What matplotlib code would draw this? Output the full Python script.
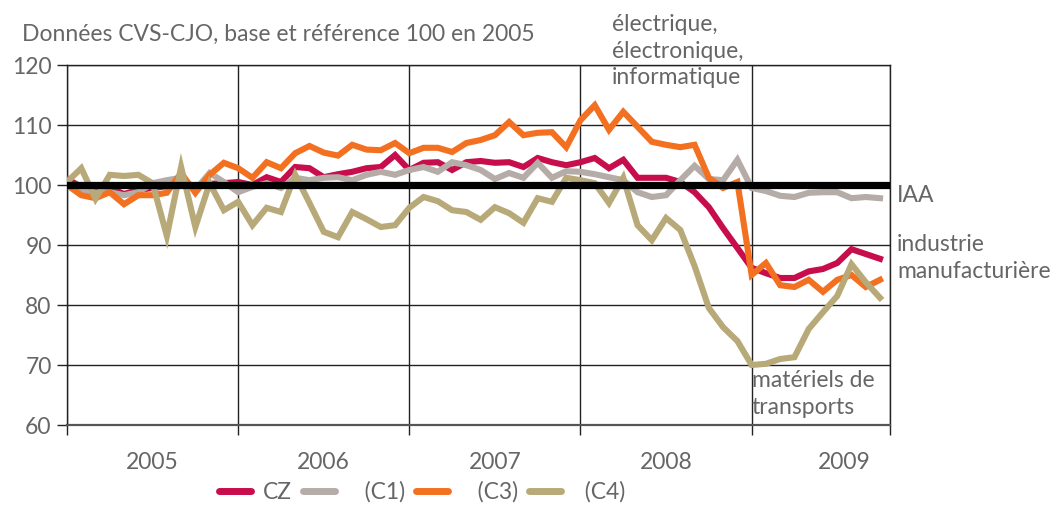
import numpy as np
import matplotlib
matplotlib.use("Agg")
import matplotlib.pyplot as plt
from matplotlib.lines import Line2D

plt.rcParams['font.family'] = ['Lato', 'DejaVu Sans']

# ---- data (monthly index, Jan 2005 -> Oct 2009) ----
years = ['2005', '2006', '2007', '2008', '2009']
year_label_pos = [6, 18, 30, 42, 54.5]
year_ticks = [0, 12, 24, 36, 48, 57.7]

cz = [101.0, 99.7, 99.2, 99.5, 98.5, 99.2, 99.5, 99.8, 100.5, 99.8,
      100.2, 100.3, 100.5, 100.0, 101.3, 100.5, 103.0, 102.8, 101.3, 101.8,
      102.2, 102.8, 103.0, 105.0, 102.5, 103.7, 103.8, 102.5, 103.8, 104.0,
      103.7, 103.8, 103.0, 104.5, 103.8, 103.3, 103.8, 104.5, 102.8, 104.2,
      101.2, 101.2, 101.2, 100.5, 98.8, 96.3, 92.8, 89.5, 86.2, 85.3,
      84.5, 84.5, 85.6, 86.0, 87.0, 89.3, 88.5, 87.7]

c1 = [100.0, 99.3, 98.7, 98.8, 98.3, 98.8, 100.3, 100.8, 101.2, 99.2,
      102.0, 100.5, 98.8, 99.7, 100.3, 99.5, 101.2, 100.8, 101.2, 101.3,
      100.8, 101.7, 102.2, 101.7, 102.5, 103.0, 102.2, 103.8, 103.3, 102.5,
      101.0, 102.0, 101.2, 103.7, 101.2, 102.3, 102.2, 101.8, 101.3, 100.8,
      98.8, 98.0, 98.3, 100.8, 103.2, 101.0, 100.8, 104.2, 99.5, 99.0,
      98.2, 98.0, 98.7, 98.8, 98.8, 97.8, 98.0, 97.8]

c3 = [100.0, 98.3, 97.8, 98.8, 96.8, 98.3, 98.3, 98.7, 102.0, 98.7,
      101.7, 103.7, 102.8, 101.2, 103.8, 102.8, 105.3, 106.5, 105.4, 104.9,
      106.7, 105.9, 105.8, 107.0, 105.3, 106.2, 106.2, 105.5, 107.0, 107.5,
      108.3, 110.5, 108.3, 108.7, 108.8, 106.3, 110.8, 113.3, 109.2, 112.2,
      109.7, 107.2, 106.7, 106.3, 106.7, 101.2, 99.5, 100.5, 85.0, 87.0,
      83.3, 83.0, 84.2, 82.2, 84.2, 85.0, 83.0, 84.2]

c4 = [100.5, 102.8, 97.7, 101.7, 101.5, 101.7, 100.3, 91.5, 103.0, 93.0,
      100.3, 95.8, 97.2, 93.3, 96.2, 95.5, 101.7, 97.0, 92.2, 91.3,
      95.5, 94.3, 93.0, 93.3, 96.2, 98.0, 97.3, 95.8, 95.5, 94.2,
      96.3, 95.3, 93.7, 97.8, 97.2, 101.2, 100.8, 100.3, 97.0, 101.2,
      93.3, 90.8, 94.5, 92.5, 86.5, 79.5, 76.3, 74.0, 70.0, 70.2,
      71.0, 71.3, 76.0, 78.8, 81.5, 86.8, 83.8, 81.2]

iaa_ref = 100

names = ['CZ', '   (C1)', '   (C3)', '  (C4)']
colors = ['#C70D4C', '#B5ABA7', '#F37021', '#B8A978']
series = [cz, c1, c3, c4]

txt_col = '#666666'
fs = 16.5

fig = plt.figure(figsize=(10.55, 5.05), dpi=100)
W, H = 1055, 505
ax = fig.add_axes([67 / W, 1 - 425 / H, (890 - 67) / W, (425 - 65) / H])

x = np.arange(len(cz))
for s, c in zip(series, colors):
    ax.plot(x, s, color=c, lw=4.4, solid_joinstyle='miter', zorder=3)

ax.axhline(iaa_ref, color='black', lw=5.2, zorder=5)

ax.set_xlim(0, 57.7)
ax.set_ylim(60, 120)
ax.set_yticks(np.arange(60, 121, 10))
ax.set_xticks(year_ticks)
ax.set_xticklabels([])
ax.grid(True, color='#222222', lw=1.0, zorder=1)
for sp in ['left', 'right', 'top']:
    ax.spines[sp].set_color('#222222')
    ax.spines[sp].set_linewidth(1.0)
ax.spines['bottom'].set_color('#555555')
ax.spines['bottom'].set_linewidth(1.6)
ax.tick_params(axis='y', length=7, width=1.0, color='#222222',
               labelsize=fs, labelcolor=txt_col, pad=4)
ax.tick_params(axis='x', length=7, width=1.0, color='#222222')

for yr, p in zip(years, year_label_pos):
    ax.text(p, -0.105, yr, transform=ax.get_xaxis_transform(),
            ha='center', va='center', fontsize=fs, color=txt_col)

fig.text(22 / W, 1 - 34 / H, 'Données CVS-CJO, base et référence 100 en 2005',
         ha='left', va='center', fontsize=fs, color=txt_col)

fig.text(897 / W, 1 - 195 / H, 'IAA', ha='left', va='center',
         fontsize=fs, color=txt_col)
fig.text(897 / W, 1 - 258 / H, 'industrie\nmanufacturière', ha='left',
         va='center', fontsize=fs, color=txt_col, linespacing=1.3)
fig.text(752 / W, 1 - 394 / H, 'matériels de\ntransports', ha='left',
         va='center', fontsize=fs, color=txt_col, linespacing=1.3)
fig.text(612 / W, 1 - 51 / H, 'électrique,\nélectronique,\ninformatique',
         ha='left', va='center', fontsize=fs, color=txt_col, linespacing=1.3)

handles = [Line2D([], [], color=c, lw=5, solid_capstyle='round') for c in colors]
leg = fig.legend(handles, names, loc='center', bbox_to_anchor=(422 / W, 1 - 492 / H),
                 ncol=4, frameon=False, fontsize=fs, handlelength=1.4,
                 handletextpad=0.5, columnspacing=0.5)
for t in leg.get_texts():
    t.set_color(txt_col)

fig.savefig('out.png', dpi=100)
